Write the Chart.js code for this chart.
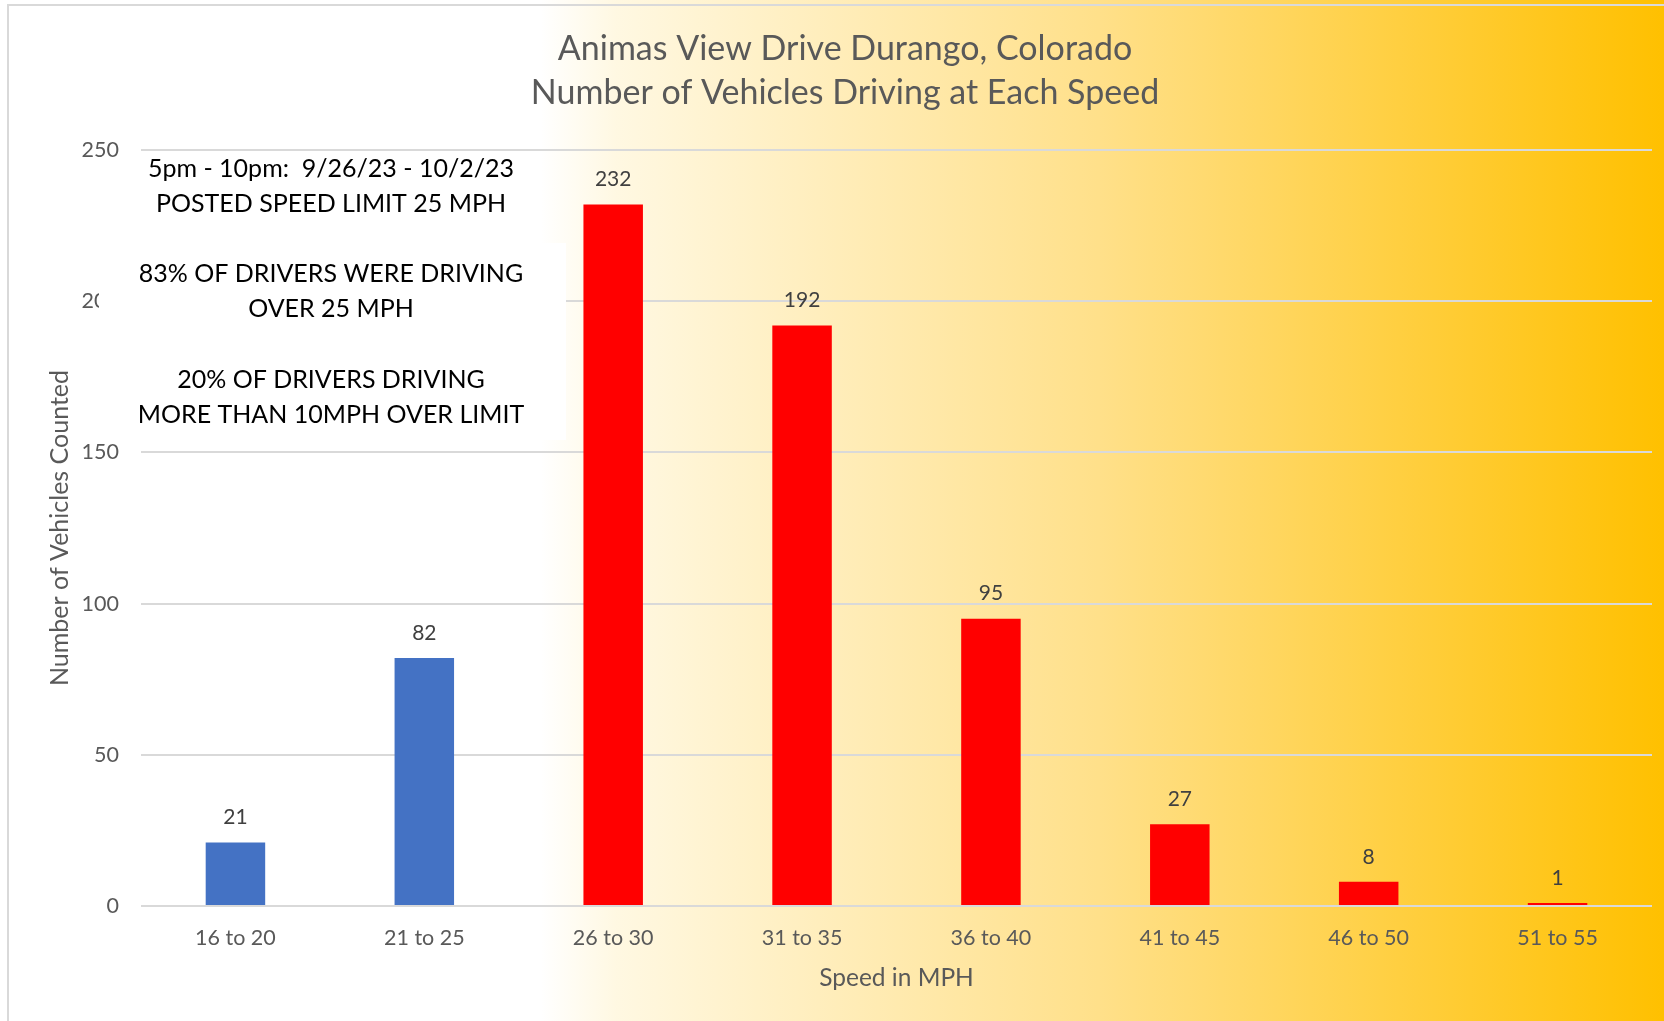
<!DOCTYPE html>
<html>
<head>
<meta charset="utf-8">
<script src="https://cdn.jsdelivr.net/npm/chart.js@4.4.0/dist/chart.umd.min.js"></script>
<style>
  html, body { margin: 0; padding: 0; background: #fff; }
  canvas { display: block; }
</style>
</head>
<body>
<canvas id="speedChart" width="1664" height="1021"></canvas>
<script>
// --- DATA ---
const speedRanges = ['16 to 20', '21 to 25', '26 to 30', '31 to 35', '36 to 40', '41 to 45', '46 to 50', '51 to 55'];
const vehicleCounts = [21, 82, 232, 192, 95, 27, 8, 1];
const yTicks = [0, 50, 100, 150, 200, 250];
const postedLimit = 25;

const chartTitle = ['Animas View Drive Durango, Colorado', 'Number of Vehicles Driving at Each Speed'];
const yAxisTitle = 'Number of Vehicles Counted';
const xAxisTitle = 'Speed in MPH';
const noteLines = [
    '5pm - 10pm:  9/26/23 - 10/2/23',
    'POSTED SPEED LIMIT 25 MPH',
    '',
    '83% OF DRIVERS WERE DRIVING',
    'OVER 25 MPH',
    '',
    '20% OF DRIVERS DRIVING',
    'MORE THAN 10MPH OVER LIMIT'
];

// --- STYLE ---
const BLUE = '#4472C4';
const RED = '#FF0000';
const GREY_TEXT = '#595959';
const GRID = '#D9D9D9';

Chart.defaults.font.family = 'Lato, "Open Sans", sans-serif';

// under the limit -> blue, over -> red
function barColor(ctx) {
    const top = parseInt(speedRanges[ctx.dataIndex].split(' to ')[1], 10);
    return top <= postedLimit ? BLUE : RED;
}

// background gradient + thin frame
const backgroundPlugin = {
    id: 'bgGradient',
    beforeDraw(chart) {
        const { ctx, width, height } = chart;
        const g = ctx.createLinearGradient(0, 0, width, 0);
        g.addColorStop(0, '#FFFFFF');
        g.addColorStop(0.325, '#FFFFFF');
        g.addColorStop(0.37, '#FFF8E2');
        g.addColorStop(0.66, '#FFE08A');
        g.addColorStop(1, '#FFC000');
        ctx.save();
        ctx.fillStyle = g;
        ctx.fillRect(0, 0, width, height);
        ctx.strokeStyle = GRID;
        ctx.lineWidth = 2;
        ctx.beginPath();
        ctx.moveTo(8, height);
        ctx.lineTo(8, 5);
        ctx.lineTo(width, 5);
        ctx.stroke();
        ctx.restore();
    }
};

// value labels above bars
const valueLabelPlugin = {
    id: 'valueLabels',
    afterDatasetsDraw(chart) {
        const { ctx } = chart;
        const meta = chart.getDatasetMeta(0);
        ctx.save();
        ctx.font = '21px Lato';
        ctx.fillStyle = '#404040';
        ctx.textAlign = 'center';
        ctx.textBaseline = 'middle';
        meta.data.forEach((bar, i) => {
            ctx.fillText(String(vehicleCounts[i]), bar.x, bar.y - 25);
        });
        ctx.restore();
    }
};

// white text box with the notes
const notePlugin = {
    id: 'noteBox',
    afterDraw(chart) {
        const { ctx } = chart;
        ctx.save();
        ctx.fillStyle = '#FFFFFF';
        ctx.fillRect(99, 243, 467, 197);
        ctx.font = '25px Lato';
        ctx.fillStyle = '#000000';
        ctx.textAlign = 'center';
        ctx.textBaseline = 'middle';
        noteLines.forEach((line, i) => {
            if (line) ctx.fillText(line, 331, 169 + i * 35.1);
        });
        ctx.restore();
    }
};

const ctx = document.getElementById('speedChart').getContext('2d');
const myChart = new Chart(ctx, {
    type: 'bar',
    data: {
        labels: speedRanges,
        datasets: [{
            data: vehicleCounts,
            backgroundColor: barColor,
            borderWidth: 0,
            barPercentage: 0.315,
            categoryPercentage: 1
        }]
    },
    options: {
        responsive: false,
        animation: false,
        devicePixelRatio: 1,
        layout: { padding: { left: 38, right: 12, top: 27, bottom: 19 } },
        plugins: {
            legend: { display: false },
            tooltip: { enabled: false },
            title: {
                display: true,
                text: chartTitle,
                color: GREY_TEXT,
                font: { size: 34, weight: 'normal', lineHeight: 44 / 34 },
                padding: { top: 0, bottom: 35 }
            }
        },
        scales: {
            x: {
                grid: { display: false, drawTicks: false },
                border: { display: false },
                ticks: { color: GREY_TEXT, font: { size: 21.5 }, padding: 19 },
                title: {
                    display: true,
                    text: xAxisTitle,
                    color: GREY_TEXT,
                    font: { size: 24.5 },
                    padding: { top: 0, bottom: 9 }
                },
                afterFit(scale) { scale.height = 96; }
            },
            y: {
                min: yTicks[0],
                max: yTicks[yTicks.length - 1],
                grid: { color: GRID, lineWidth: 2, drawTicks: false },
                border: { display: false },
                ticks: { stepSize: yTicks[1] - yTicks[0], color: GREY_TEXT, font: { size: 21.5 }, padding: 22 },
                title: {
                    display: true,
                    text: yAxisTitle,
                    color: GREY_TEXT,
                    font: { size: 25 },
                    padding: { top: 7, bottom: 0 }
                },
                afterFit(scale) { scale.width = 103; }
            }
        }
    },
    plugins: [backgroundPlugin, valueLabelPlugin, notePlugin]
});
</script>
</body>
</html>
